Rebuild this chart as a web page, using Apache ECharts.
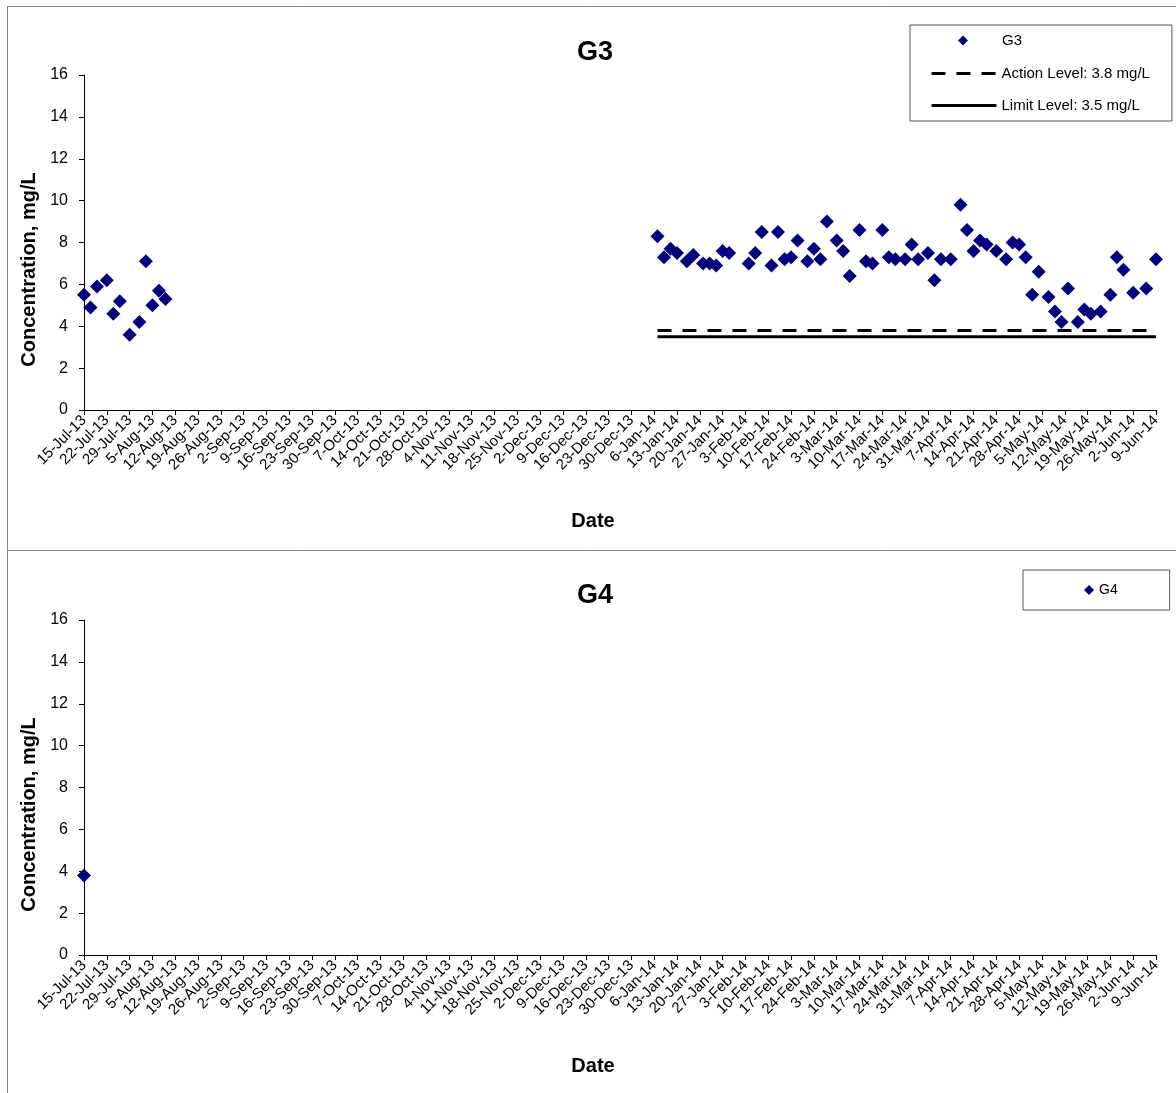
<!DOCTYPE html>
<html>
<head>
<meta charset="utf-8">
<title>G3 / G4</title>
<script src="https://cdn.jsdelivr.net/npm/echarts@6/dist/echarts.min.js"></script>
<style>
    html, body { margin: 0; padding: 0; background: #fff; }
    #chart { width: 1176px; height: 1093px; }
</style>
</head>
<body>
<div id="chart"></div>
<script>
// sample dates and concentrations (mg/L)
var g3Dates = [
    '2013-07-15', '2013-07-17', '2013-07-19', '2013-07-22', '2013-07-24', '2013-07-26',
    '2013-07-29', '2013-08-01', '2013-08-03', '2013-08-05', '2013-08-07', '2013-08-09',
    '2014-01-07', '2014-01-09', '2014-01-11', '2014-01-13', '2014-01-16', '2014-01-18',
    '2014-01-21', '2014-01-23', '2014-01-25', '2014-01-27', '2014-01-29', '2014-02-04',
    '2014-02-06', '2014-02-08', '2014-02-11', '2014-02-13', '2014-02-15', '2014-02-17',
    '2014-02-19', '2014-02-22', '2014-02-24', '2014-02-26', '2014-02-28', '2014-03-03',
    '2014-03-05', '2014-03-07', '2014-03-10', '2014-03-12', '2014-03-14', '2014-03-17',
    '2014-03-19', '2014-03-21', '2014-03-24', '2014-03-26', '2014-03-28', '2014-03-31',
    '2014-04-02', '2014-04-04', '2014-04-07', '2014-04-10', '2014-04-12', '2014-04-14',
    '2014-04-16', '2014-04-18', '2014-04-21', '2014-04-24', '2014-04-26', '2014-04-28',
    '2014-04-30', '2014-05-02', '2014-05-04', '2014-05-07', '2014-05-09', '2014-05-11',
    '2014-05-13', '2014-05-16', '2014-05-18', '2014-05-20', '2014-05-23', '2014-05-26',
    '2014-05-28', '2014-05-30', '2014-06-02', '2014-06-06', '2014-06-09'
];
var g3Values = [
    5.5, 4.9, 5.9, 6.2, 4.6, 5.2,
    3.6, 4.2, 7.1, 5.0, 5.7, 5.3,
    8.3, 7.3, 7.7, 7.5, 7.1, 7.4,
    7.0, 7.0, 6.9, 7.6, 7.5, 7.0,
    7.5, 8.5, 6.9, 8.5, 7.2, 7.3,
    8.1, 7.1, 7.7, 7.2, 9.0, 8.1,
    7.6, 6.4, 8.6, 7.1, 7.0, 8.6,
    7.3, 7.2, 7.2, 7.9, 7.2, 7.5,
    6.2, 7.2, 7.2, 9.8, 8.6, 7.6,
    8.1, 7.9, 7.6, 7.2, 8.0, 7.9,
    7.3, 5.5, 6.6, 5.4, 4.7, 4.2,
    5.8, 4.2, 4.8, 4.6, 4.7, 5.5,
    7.3, 6.7, 5.6, 5.8, 7.2
];
var g4Dates = ['2013-07-15'];
var g4Values = [3.8];

// criteria lines (drawn over the 2014 sampling period)
var levelDates = ['2014-01-07', '2014-06-09'];
var actionLevel = 3.8;
var limitLevel = 3.5;

var axisStart = '2013-07-15';
var axisEnd = '2014-06-09';
var yTicks = [0, 16, 2];   // min, max, interval

var monthNames = ['Jan', 'Feb', 'Mar', 'Apr', 'May', 'Jun', 'Jul', 'Aug', 'Sep', 'Oct', 'Nov', 'Dec'];

function dayOffset(s) {
    var a = s.split('-'), b = axisStart.split('-');
    var t1 = Date.UTC(+a[0], +a[1] - 1, +a[2]);
    var t0 = Date.UTC(+b[0], +b[1] - 1, +b[2]);
    return Math.round((t1 - t0) / 86400000);
}
function dayLabel(d) {
    var b = axisStart.split('-');
    var dt = new Date(Date.UTC(+b[0], +b[1] - 1, +b[2] + d));
    return dt.getUTCDate() + '-' + monthNames[dt.getUTCMonth()] + '-' + String(dt.getUTCFullYear()).slice(2);
}
function pairs(dates, values) {
    var out = [];
    for (var i = 0; i < dates.length; i++) {
        out.push([dayOffset(dates[i]), values[i]]);
    }
    return out;
}
function levelLine(v) {
    return [[dayOffset(levelDates[0]), v], [dayOffset(levelDates[1]), v]];
}

var FONT = 'Arial, "Liberation Sans", sans-serif';
var navy = '#000080';
var nameStyle = { fontFamily: FONT, fontSize: 20, fontWeight: 'bold', color: '#000' };

function xAxisFor(idx) {
    return {
        type: 'value',
        gridIndex: idx,
        min: 0,
        max: dayOffset(axisEnd),
        interval: 7,
        name: 'Date',
        nameLocation: 'middle',
        nameGap: 101,
        // Excel centres the title on the chart, not the plot: pull it left a bit
        nameTextStyle: Object.assign({ padding: [0, 54, 0, 0] }, nameStyle),
        splitLine: { show: false },
        axisLine: { onZero: false, lineStyle: { color: '#000', width: 1 } },
        axisTick: { show: true, length: 5, lineStyle: { color: '#000' } },
        axisLabel: {
            rotate: 45,
            margin: 8,
            fontFamily: FONT,
            fontSize: 15,
            color: '#000',
            formatter: function (v) { return dayLabel(v); }
        }
    };
}
function yAxisFor(idx) {
    return {
        type: 'value',
        gridIndex: idx,
        min: yTicks[0],
        max: yTicks[1],
        interval: yTicks[2],
        name: 'Concentration, mg/L',
        nameLocation: 'middle',
        nameGap: 41,
        nameTextStyle: Object.assign({ padding: [0, 54, 0, 0] }, nameStyle),
        splitLine: { show: false },
        axisLine: { show: true, lineStyle: { color: '#000', width: 1 } },
        axisTick: { show: true, length: 5, lineStyle: { color: '#000' } },
        axisLabel: { margin: 16, fontFamily: FONT, fontSize: 16, color: '#000' }
    };
}

var legendText = { fontFamily: FONT, fontSize: 15, color: '#000' };

var option = {
    animation: false,
    backgroundColor: '#fff',
    title: [
        { text: 'G3', left: 590, top: 34, textAlign: 'center',
          textStyle: { fontFamily: FONT, fontSize: 27, fontWeight: 'bold', color: '#000' } },
        { text: 'G4', left: 590, top: 577, textAlign: 'center',
          textStyle: { fontFamily: FONT, fontSize: 27, fontWeight: 'bold', color: '#000' } }
    ],
    legend: [
        // boxed legend for the two criteria lines, with room on top for the G3 row
        {
            orient: 'vertical',
            left: 910,
            top: 25,
            padding: [41, 22, 8, 20],
            itemWidth: 65,
            itemHeight: 10,
            itemGap: 17,
            borderColor: '#555',
            borderWidth: 1,
            lineStyle: { width: 3 },
            textStyle: legendText,
            data: ['Action Level: 3.8 mg/L', 'Limit Level: 3.5 mg/L']
        },
        // G3 marker row, kept separate so the diamond is not stretched to the line width
        {
            left: 958,
            top: 33,
            padding: 0,
            itemWidth: 10,
            itemHeight: 10,
            textStyle: Object.assign({ padding: [0, 0, 0, 29] }, legendText),
            data: ['G3']
        },
        {
            left: 1023,
            top: 570,
            padding: [13, 52, 13, 61],
            itemWidth: 10,
            itemHeight: 10,
            borderColor: '#555',
            borderWidth: 1,
            textStyle: { fontFamily: FONT, fontSize: 14, color: '#000' },
            data: ['G4']
        }
    ],
    grid: [
        { left: 84, top: 75, width: 1072, height: 335 },
        { left: 84, top: 620, width: 1072, height: 335 }
    ],
    xAxis: [xAxisFor(0), xAxisFor(1)],
    yAxis: [yAxisFor(0), yAxisFor(1)],
    series: [
        {
            name: 'Action Level: 3.8 mg/L',
            type: 'line',
            xAxisIndex: 0, yAxisIndex: 0,
            symbol: 'none',
            itemStyle: { color: 'rgba(0,0,0,0)' },   // no dot in the legend icon
            lineStyle: { color: '#000', width: 3, type: [14, 11] },
            data: levelLine(actionLevel),
            z: 2
        },
        {
            name: 'Limit Level: 3.5 mg/L',
            type: 'line',
            xAxisIndex: 0, yAxisIndex: 0,
            symbol: 'none',
            itemStyle: { color: 'rgba(0,0,0,0)' },
            lineStyle: { color: '#000', width: 3 },
            data: levelLine(limitLevel),
            z: 2
        },
        {
            name: 'G3',
            type: 'scatter',
            xAxisIndex: 0, yAxisIndex: 0,
            symbol: 'diamond',
            symbolSize: 14,
            itemStyle: { color: navy, opacity: 1 },
            data: pairs(g3Dates, g3Values),
            z: 3
        },
        {
            name: 'G4',
            type: 'scatter',
            xAxisIndex: 1, yAxisIndex: 1,
            symbol: 'diamond',
            symbolSize: 14,
            itemStyle: { color: navy, opacity: 1 },
            data: pairs(g4Dates, g4Values),
            z: 3
        }
    ],
    // outer frame of the two chart panels
    graphic: [
        { type: 'line', shape: { x1: 7, y1: 6.5, x2: 1176, y2: 6.5 }, style: { stroke: '#808080', lineWidth: 1 } },
        { type: 'line', shape: { x1: 7.5, y1: 6, x2: 7.5, y2: 1093 }, style: { stroke: '#808080', lineWidth: 1 } },
        { type: 'line', shape: { x1: 7, y1: 550.5, x2: 1176, y2: 550.5 }, style: { stroke: '#808080', lineWidth: 1 } }
    ]
};

var myChart = echarts.init(document.getElementById('chart'));
myChart.setOption(option);
</script>
</body>
</html>
